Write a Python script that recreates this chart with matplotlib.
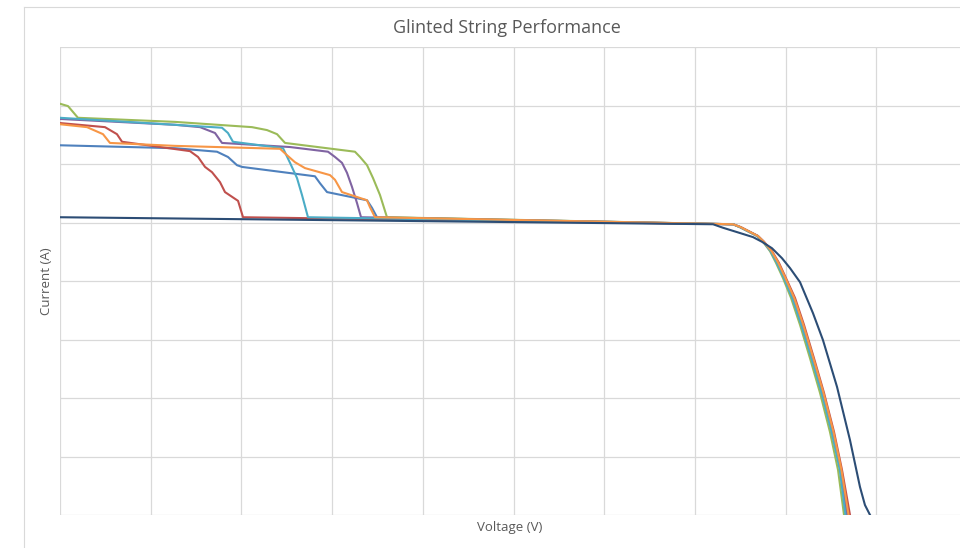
import matplotlib.pyplot as plt
from matplotlib.lines import Line2D

# values: voltage (V, grid = 100 V), current (A, grid = 1 A)
knee_i = [4.97, 4.92, 4.85, 4.77, 4.67, 4.51, 4.31, 4.05, 3.71, 3.25, 2.68, 2.09, 1.42, 0.77, 0.0]

blue_v = [0, 126.8, 173.1, 185.2, 195.1, 200.7, 281.1, 286.7, 294.4, 338.5, 344.0, 349.5,
          742.0, 750.2, 759.0, 769.2, 775.9, 784.2, 791.4, 799.3, 808.7, 818.8, 830.0, 841.2, 852.3, 861.1, 868.3]
blue_i = [6.32, 6.27, 6.21, 6.12, 5.98, 5.95, 5.79, 5.67, 5.52, 5.38, 5.25, 5.09] + knee_i

red_v = [0, 49.6, 62.8, 68.4, 143.3, 152.2, 159.9, 167.6, 176.4, 181.9, 196.3, 201.8,
         742.0, 750.8, 759.6, 769.6, 776.2, 785.0, 792.7, 800.4, 810.4, 820.3, 831.3, 842.3, 853.4, 862.2, 871.0]
red_i = [6.70, 6.63, 6.51, 6.38, 6.22, 6.12, 5.95, 5.86, 5.69, 5.52, 5.37, 5.09] + knee_i

green_v = [0, 8.8, 19.8, 126.8, 211.7, 228.2, 239.3, 248.1, 325.2, 330.8, 338.5, 345.1, 352.8, 360.5,
           742.0, 749.7, 758.5, 768.5, 775.1, 782.8, 789.4, 797.1, 806.0, 815.9, 826.9, 837.9, 848.9, 857.8, 864.4]
green_i = [7.03, 6.99, 6.79, 6.72, 6.63, 6.58, 6.51, 6.36, 6.21, 6.12, 5.98, 5.76, 5.47, 5.09] + knee_i

purple_v = [0, 126.8, 154.4, 170.9, 178.6, 253.6, 295.5, 303.2, 310.9, 316.4, 321.9, 327.5, 331.9,
            742.0, 750.0, 758.8, 769.0, 775.7, 783.9, 790.9, 798.7, 808.0, 818.0, 829.3, 840.5, 851.6, 860.5, 867.2]
purple_i = [6.77, 6.67, 6.63, 6.53, 6.36, 6.29, 6.21, 6.12, 6.02, 5.85, 5.61, 5.33, 5.09] + knee_i

aqua_v = [0, 126.8, 178.6, 185.2, 190.7, 245.9, 253.6, 261.3, 266.8, 273.4,
          742.0, 749.7, 758.5, 768.8, 775.5, 783.5, 790.3, 798.2, 807.3, 817.3, 828.5, 839.6, 850.7, 859.8, 866.0]
aqua_i = [6.79, 6.67, 6.62, 6.53, 6.38, 6.27, 6.02, 5.76, 5.47, 5.09] + knee_i

orange_v = [0, 29.8, 47.4, 55.1, 126.8, 242.6, 250.3, 259.1, 270.1, 297.7, 303.2, 310.9, 338.5, 341.8, 347.3,
            742.0, 750.5, 759.3, 769.4, 776.0, 784.6, 792.0, 799.8, 809.5, 819.5, 830.6, 841.7, 852.8, 861.6, 869.4]
orange_i = [6.68, 6.63, 6.51, 6.36, 6.31, 6.26, 6.15, 6.03, 5.93, 5.81, 5.73, 5.52, 5.38, 5.26, 5.09] + knee_i

navy_v = [0, 720.0, 731.0, 749.7, 764.1, 774.0, 785.0, 796.0, 804.9, 815.9, 830.2, 841.2, 856.7, 871.0, 882.0, 887.5, 893.1]
navy_i = [5.09, 4.97, 4.91, 4.82, 4.75, 4.67, 4.56, 4.39, 4.22, 3.98, 3.45, 2.99, 2.19, 1.28, 0.48, 0.17, 0.0]

series = [
    (blue_v, blue_i, '#4F81BD'),
    (red_v, red_i, '#C0504D'),
    (green_v, green_i, '#9BBB59'),
    (purple_v, purple_i, '#8064A2'),
    (aqua_v, aqua_i, '#4BACC6'),
    (orange_v, orange_i, '#F79646'),
    (navy_v, navy_i, '#2C4D75'),
]

text_color = '#595959'
grid_color = '#D9D9D9'

fig = plt.figure(figsize=(9.6, 5.48), dpi=100)
# chart area border (only top and left edges are inside the picture)
fig.add_artist(Line2D([24 / 960, 24 / 960], [0, 1 - 7 / 548], color=grid_color, lw=0.8))
fig.add_artist(Line2D([24 / 960, 1], [1 - 7 / 548, 1 - 7 / 548], color=grid_color, lw=0.8))

ax = fig.add_axes([60 / 960, 33 / 548, 907 / 960, 468 / 548])
for v, i, c in series:
    ax.plot(v, i, color=c, lw=1.5, solid_joinstyle='round')

ax.set_xlim(0, 1000)
ax.set_ylim(0, 8)
ax.set_xticks(range(0, 1001, 100))
ax.set_yticks(range(0, 9))
ax.tick_params(length=0, labelbottom=False, labelleft=False)
ax.grid(True, color=grid_color, lw=0.9)
ax.set_axisbelow(True)
for s in ax.spines.values():
    s.set_visible(False)

fig.text(507 / 960, 1 - 28 / 548, 'Glinted String Performance', ha='center', va='center',
         fontsize=13, color=text_color, family='Open Sans')
fig.text(510 / 960, 1 - 527 / 548, 'Voltage (V)', ha='center', va='center',
         fontsize=9.5, color=text_color, family='Open Sans')
fig.text(47 / 960, 1 - 281 / 548, 'Current (A)', ha='center', va='center', rotation=90,
         fontsize=9.5, color=text_color, family='Open Sans')

fig.savefig('out.png', dpi=100)
